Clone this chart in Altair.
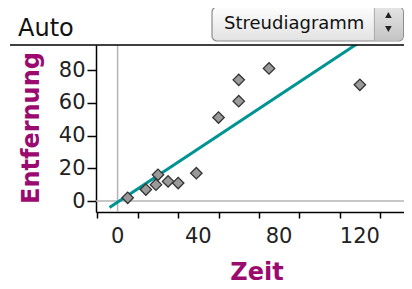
import altair as alt
import pandas as pd

# Data
zeit = [5, 14, 19, 20, 25, 30, 39, 50, 60, 60, 75, 120]
entfernung = [2, 7, 10, 16, 12, 11, 17, 51, 61, 74, 81, 71]

x_ticks = list(range(-10, 150, 10))
x_tick_labels = [0, 40, 80, 120]
y_ticks = list(range(0, 100, 10))

header_label = "Auto"
dropdown_label = "Streudiagramm"
x_title = "Zeit"
y_title = "Entfernung"

df = pd.DataFrame({"Zeit": zeit, "Entfernung": entfernung})
one = pd.DataFrame({"k": [0]})

W, H = 308, 167
XDOM = [-10.7, -10.7 + W / 2.019]
YDOM = [-6.7, 95.3]
TITLE_COLOR = "#9b0a6e"

xscale = alt.Scale(domain=XDOM, nice=False, zero=False)
yscale = alt.Scale(domain=YDOM, nice=False, zero=False)

x_axis = alt.Axis(
    values=x_ticks, labels=False,
    title=None, grid=False, tickSize=6,
    domainColor="#000", tickColor="#000", domainWidth=1.5, tickWidth=1.5,
)
y_axis = alt.Axis(
    values=y_ticks,
    labelExpr="datum.value % 20 === 0 ? '' + datum.value : ''",
    labelOverlap=False,
    title=None, grid=False, tickSize=9, labelPadding=2,
    domainColor="#000", tickColor="#000", domainWidth=1.5, tickWidth=1.5,
    labelFont="DejaVu Sans", labelFontSize=21, labelColor="#222",
)

base = alt.Chart(df)

axes_layer = base.mark_point(opacity=0, size=1).encode(
    x=alt.X("Zeit:Q", scale=xscale, axis=x_axis),
    y=alt.Y("Entfernung:Q", scale=yscale, axis=y_axis),
)

points = base.mark_point(
    shape="diamond", filled=True, size=130, fill="#9a9a9a",
    stroke="#333333", strokeWidth=1.3, opacity=1,
).encode(
    x=alt.X("Zeit:Q", scale=xscale),
    y=alt.Y("Entfernung:Q", scale=yscale),
)

reg = base.transform_regression(
    "Zeit", "Entfernung", extent=[-4, 130]
).mark_line(color="#009393", strokeWidth=3, clip=True).encode(
    x=alt.X("Zeit:Q", scale=xscale),
    y=alt.Y("Entfernung:Q", scale=yscale),
)

zero_df = pd.DataFrame({"Zeit": [0], "Entfernung": [0]})
vzero = alt.Chart(zero_df).mark_rule(color="#b4b4b4", strokeWidth=1.5).encode(
    x=alt.X("Zeit:Q", scale=xscale),
)
hzero = alt.Chart(zero_df).mark_rule(color="#b4b4b4", strokeWidth=1.5).encode(
    y=alt.Y("Entfernung:Q", scale=yscale),
)

xlab = alt.Chart(pd.DataFrame({"Zeit": x_tick_labels})).mark_text(
    align="center", baseline="top", font="DejaVu Sans", fontSize=21, color="#222",
).encode(
    x=alt.X("Zeit:Q", scale=xscale),
    y=alt.value(181),
    text=alt.Text("Zeit:Q"),
)

c1 = alt.Chart(one)
top_line = c1.mark_rule(color="#000", strokeWidth=1.5).encode(
    x=alt.value(-86), x2=alt.value(W), y=alt.value(0)
)
auto_text = c1.mark_text(
    text=header_label, align="left", baseline="alphabetic",
    font="DejaVu Sans", fontSize=24, color="#111",
).encode(x=alt.value(-78), y=alt.value(-9))

grad_main = alt.Gradient(
    gradient="linear",
    stops=[alt.GradientStop(color="#fdfdfd", offset=0),
           alt.GradientStop(color="#e2e2e2", offset=1)],
    x1=0, x2=0, y1=0, y2=1,
)
grad_btn = alt.Gradient(
    gradient="linear",
    stops=[alt.GradientStop(color="#e4e4e4", offset=0),
           alt.GradientStop(color="#c4c4c4", offset=1)],
    x1=0, x2=0, y1=0, y2=1,
)
DX0, DX1 = 116, W - 0.6
DDIV = DX1 - 29
dd_box = c1.mark_rect(
    fill=grad_main, stroke="#8c8c8c", strokeWidth=1.2, cornerRadius=5
).encode(x=alt.value(DX0), x2=alt.value(DX1), y=alt.value(-38), y2=alt.value(-4))
dd_btn = c1.mark_rect(
    fill=grad_btn, cornerRadiusTopRight=4, cornerRadiusBottomRight=4
).encode(x=alt.value(DDIV), x2=alt.value(DX1 - 0.6), y=alt.value(-37.4), y2=alt.value(-4.6))
dd_div = c1.mark_rule(color="#a8a8a8", strokeWidth=1).encode(
    x=alt.value(DDIV), y=alt.value(-38), y2=alt.value(-4)
)
dd_text = c1.mark_text(
    text=dropdown_label, align="center", baseline="middle",
    font="DejaVu Sans", fontSize=18, color="#111",
).encode(x=alt.value((DX0 + DDIV) / 2 + 1), y=alt.value(-21))
arrow_up = c1.mark_point(
    shape="triangle-up", filled=True, size=45, color="#222", opacity=1
).encode(x=alt.value(DDIV + 14), y=alt.value(-30))
arrow_dn = c1.mark_point(
    shape="triangle-down", filled=True, size=45, color="#222", opacity=1
).encode(x=alt.value(DDIV + 14), y=alt.value(-16))

xt = c1.mark_text(
    text=x_title, align="center", baseline="middle",
    font="DejaVu Sans", fontWeight="bold", fontSize=24, color=TITLE_COLOR,
).encode(x=alt.value(161), y=alt.value(228))
yt = c1.mark_text(
    text=y_title, align="center", baseline="middle", angle=270,
    font="DejaVu Sans", fontWeight="bold", fontSize=24, color=TITLE_COLOR,
).encode(x=alt.value(-64), y=alt.value(83))

chart = alt.layer(
    axes_layer, vzero, hzero, reg, points, xlab, top_line, auto_text,
    dd_box, dd_btn, dd_div, dd_text, arrow_up, arrow_dn, xt, yt,
).properties(
    width=W, height=H,
    autosize=alt.AutoSizeParams(type="none"),
    padding={"left": 88, "top": 37, "right": 0, "bottom": 76},
).configure_view(stroke=None)

chart.save("out.html", embed_options={"renderer": "svg", "actions": False})
